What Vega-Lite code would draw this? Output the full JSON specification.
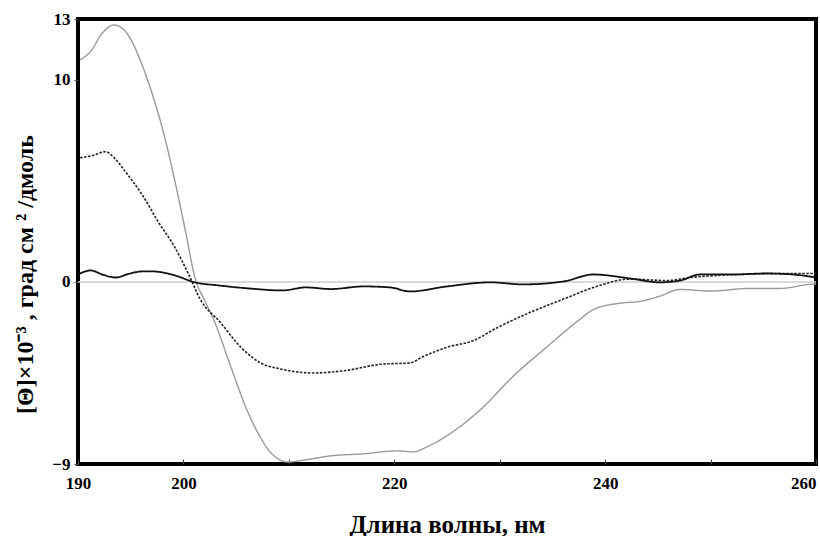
{
  "$schema": "https://vega.github.io/schema/vega-lite/v6.json",
  "width": 738,
  "height": 445,
  "autosize": {"type": "none"},
  "padding": {"left": 78, "top": 19, "right": 4, "bottom": 72},
  "background": "white",
  "config": {
    "view": {"stroke": "black", "strokeWidth": 4},
    "axis": {"labelFont": "Liberation Serif", "titleFont": "Liberation Serif", "labelFontWeight": "bold", "titleFontWeight": "bold", "labelColor": "black", "titleColor": "black", "grid": false, "domain": false}
  },
  "datasets": {
    "curves": [
      {"nm": 190.2, "v": 10.98, "s": "A"},
      {"nm": 191.2, "v": 11.4, "s": "A"},
      {"nm": 192.3, "v": 12.3, "s": "A"},
      {"nm": 193.4, "v": 12.7, "s": "A"},
      {"nm": 194.3, "v": 12.5, "s": "A"},
      {"nm": 195.2, "v": 11.8, "s": "A"},
      {"nm": 196.1, "v": 10.7, "s": "A"},
      {"nm": 197.1, "v": 9.2, "s": "A"},
      {"nm": 198.2, "v": 7.2, "s": "A"},
      {"nm": 199.2, "v": 4.96, "s": "A"},
      {"nm": 200.2, "v": 2.5, "s": "A"},
      {"nm": 201.1, "v": 0.2, "s": "A"},
      {"nm": 202.0, "v": -0.9, "s": "A"},
      {"nm": 202.9, "v": -1.9, "s": "A"},
      {"nm": 204.5, "v": -4.2, "s": "A"},
      {"nm": 206.0, "v": -6.3, "s": "A"},
      {"nm": 207.0, "v": -7.4, "s": "A"},
      {"nm": 208.4, "v": -8.5, "s": "A"},
      {"nm": 209.9, "v": -8.9, "s": "A"},
      {"nm": 211.5, "v": -8.8, "s": "A"},
      {"nm": 213.9, "v": -8.6, "s": "A"},
      {"nm": 217.0, "v": -8.5, "s": "A"},
      {"nm": 220.3, "v": -8.35, "s": "A"},
      {"nm": 221.8, "v": -8.4, "s": "A"},
      {"nm": 223.3, "v": -8.1, "s": "A"},
      {"nm": 225.0, "v": -7.6, "s": "A"},
      {"nm": 228.2, "v": -6.3, "s": "A"},
      {"nm": 231.3, "v": -4.65, "s": "A"},
      {"nm": 234.5, "v": -3.2, "s": "A"},
      {"nm": 237.6, "v": -1.85, "s": "A"},
      {"nm": 238.9, "v": -1.36, "s": "A"},
      {"nm": 241.4, "v": -1.05, "s": "A"},
      {"nm": 243.3, "v": -0.96, "s": "A"},
      {"nm": 245.2, "v": -0.7, "s": "A"},
      {"nm": 247.1, "v": -0.37, "s": "A"},
      {"nm": 250.0, "v": -0.45, "s": "A"},
      {"nm": 253.7, "v": -0.32, "s": "A"},
      {"nm": 256.6, "v": -0.32, "s": "A"},
      {"nm": 259.4, "v": -0.12, "s": "A"},
      {"nm": 260.0, "v": -0.1, "s": "A"},

      {"nm": 190.2, "v": 6.14, "s": "B"},
      {"nm": 191.4, "v": 6.25, "s": "B"},
      {"nm": 192.6, "v": 6.44, "s": "B"},
      {"nm": 193.5, "v": 6.1, "s": "B"},
      {"nm": 194.5, "v": 5.45, "s": "B"},
      {"nm": 196.1, "v": 4.3, "s": "B"},
      {"nm": 197.6, "v": 2.98, "s": "B"},
      {"nm": 199.2, "v": 1.7, "s": "B"},
      {"nm": 200.5, "v": 0.37, "s": "B"},
      {"nm": 201.6, "v": -0.86, "s": "B"},
      {"nm": 203.5, "v": -2.0, "s": "B"},
      {"nm": 205.4, "v": -3.2, "s": "B"},
      {"nm": 207.3, "v": -4.0, "s": "B"},
      {"nm": 209.2, "v": -4.3, "s": "B"},
      {"nm": 212.3, "v": -4.5, "s": "B"},
      {"nm": 215.5, "v": -4.37, "s": "B"},
      {"nm": 218.7, "v": -4.07, "s": "B"},
      {"nm": 221.5, "v": -4.0, "s": "B"},
      {"nm": 222.7, "v": -3.7, "s": "B"},
      {"nm": 225.0, "v": -3.23, "s": "B"},
      {"nm": 227.5, "v": -2.9, "s": "B"},
      {"nm": 229.8, "v": -2.25, "s": "B"},
      {"nm": 232.9, "v": -1.5, "s": "B"},
      {"nm": 236.0, "v": -0.86, "s": "B"},
      {"nm": 239.2, "v": -0.22, "s": "B"},
      {"nm": 242.3, "v": 0.14, "s": "B"},
      {"nm": 245.9, "v": 0.07, "s": "B"},
      {"nm": 248.1, "v": 0.22, "s": "B"},
      {"nm": 252.8, "v": 0.37, "s": "B"},
      {"nm": 256.6, "v": 0.42, "s": "B"},
      {"nm": 260.0, "v": 0.42, "s": "B"},

      {"nm": 190.0, "v": 0.37, "s": "C"},
      {"nm": 191.2, "v": 0.57, "s": "C"},
      {"nm": 192.4, "v": 0.35, "s": "C"},
      {"nm": 193.6, "v": 0.22, "s": "C"},
      {"nm": 194.8, "v": 0.4, "s": "C"},
      {"nm": 196.1, "v": 0.52, "s": "C"},
      {"nm": 197.1, "v": 0.52, "s": "C"},
      {"nm": 199.2, "v": 0.32, "s": "C"},
      {"nm": 201.1, "v": -0.02, "s": "C"},
      {"nm": 203.3, "v": -0.17, "s": "C"},
      {"nm": 206.2, "v": -0.32, "s": "C"},
      {"nm": 209.4, "v": -0.42, "s": "C"},
      {"nm": 211.6, "v": -0.27, "s": "C"},
      {"nm": 214.0, "v": -0.35, "s": "C"},
      {"nm": 217.1, "v": -0.22, "s": "C"},
      {"nm": 219.6, "v": -0.27, "s": "C"},
      {"nm": 221.5, "v": -0.47, "s": "C"},
      {"nm": 225.0, "v": -0.22, "s": "C"},
      {"nm": 229.1, "v": -0.02, "s": "C"},
      {"nm": 232.2, "v": -0.12, "s": "C"},
      {"nm": 236.0, "v": 0.02, "s": "C"},
      {"nm": 238.9, "v": 0.37, "s": "C"},
      {"nm": 242.4, "v": 0.17, "s": "C"},
      {"nm": 245.2, "v": -0.02, "s": "C"},
      {"nm": 247.1, "v": 0.07, "s": "C"},
      {"nm": 249.0, "v": 0.37, "s": "C"},
      {"nm": 252.1, "v": 0.37, "s": "C"},
      {"nm": 255.3, "v": 0.42, "s": "C"},
      {"nm": 257.8, "v": 0.37, "s": "C"},
      {"nm": 260.0, "v": 0.22, "s": "C"}
    ]
  },
  "layer": [
    {
      "data": {"values": [{"zero": 0}]},
      "mark": {"type": "rule", "color": "#cccccc", "strokeWidth": 1.5},
      "encoding": {"y": {"field": "zero", "type": "quantitative", "scale": {"domain": [-9, 13]}}}
    },
    {
      "data": {"name": "curves"},
      "mark": {"type": "line", "interpolate": "monotone"},
      "encoding": {
        "x": {
          "field": "nm", "type": "quantitative",
          "scale": {"domain": [190, 260], "nice": false, "zero": false},
          "axis": {
            "values": [190, 200, 210, 220, 230, 240, 250, 260],
            "labelExpr": "(datum.value == 210 || datum.value == 230 || datum.value == 250) ? '' : datum.label",
            "labelFlush": false,
            "labelAlign": {"condition": {"test": "datum.value == 260", "value": "right"}, "value": "center"},
            "tickSize": -5, "tickColor": "#444", "labelPadding": 16, "labelFontSize": 17,
            "title": "Длина волны, нм", "titleFontSize": 25, "titleY": 60, "titleBaseline": "middle"
          }
        },
        "y": {
          "field": "v", "type": "quantitative",
          "scale": {"domain": [-9, 13], "nice": false, "zero": false},
          "axis": {
            "values": [-9, 0, 10, 13], "tickSize": 4, "tickColor": "#444", "labelPadding": 4, "labelFontSize": 17,
            "title": "[Θ]×10⁻³ ,  град  см ²  /дмоль", "titleFontSize": 24,
            "titleAngle": -90, "titleX": -53, "titleY": 255, "titleAlign": "center", "titleBaseline": "middle"
          }
        },
        "color": {"field": "s", "type": "nominal", "scale": {"domain": ["A", "B", "C"], "range": ["#999999", "#222222", "#111111"]}, "legend": null},
        "strokeDash": {"field": "s", "type": "nominal", "scale": {"domain": ["A", "B", "C"], "range": [[1, 0], [2.5, 1.5], [1, 0]]}, "legend": null},
        "size": {"field": "s", "type": "nominal", "scale": {"domain": ["A", "B", "C"], "range": [1.4, 1.8, 2.6]}, "legend": null},
        "order": {"field": "nm", "type": "quantitative"}
      }
    }
  ]
}
